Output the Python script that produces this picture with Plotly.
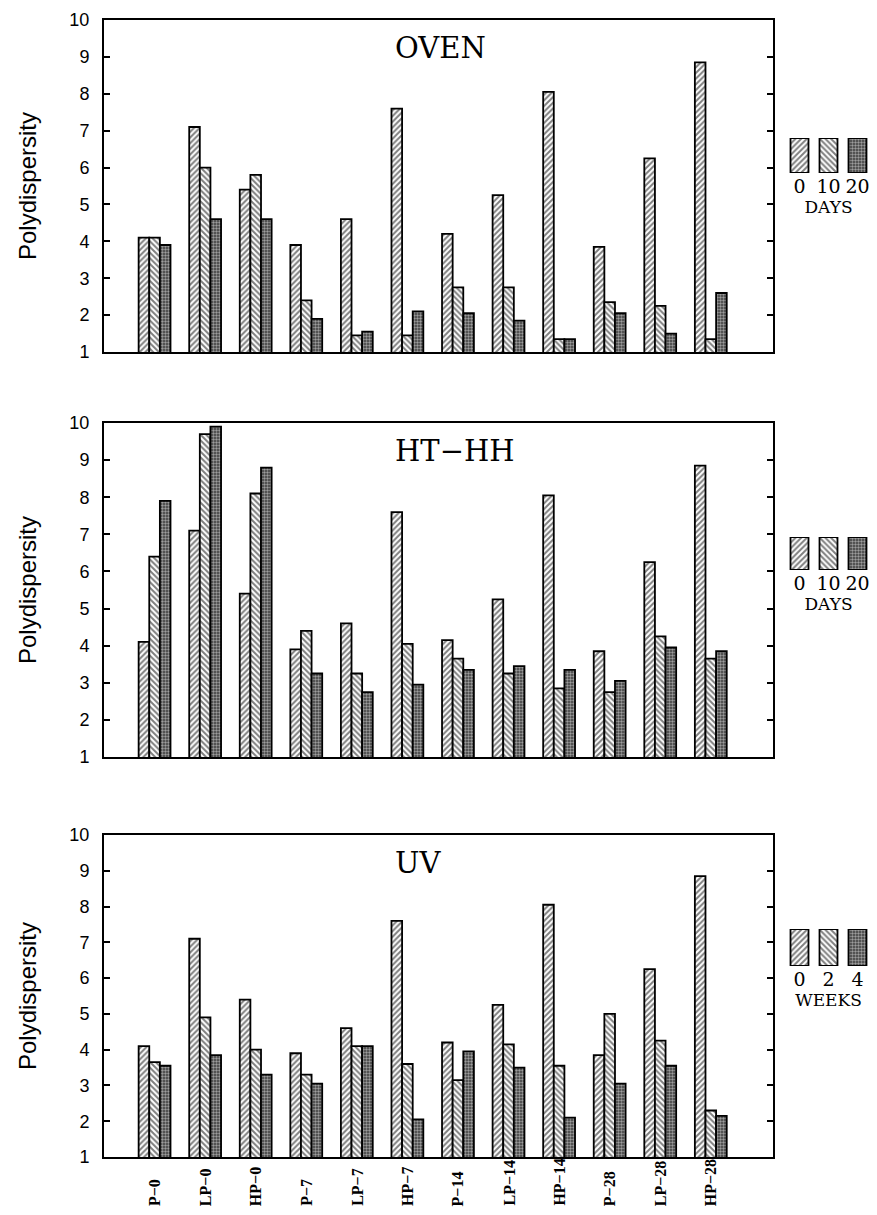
import plotly.graph_objects as go

# ---------------- data ----------------
samples = ["P−0", "LP−0", "HP−0", "P−7", "LP−7", "HP−7",
           "P−14", "LP−14", "HP−14", "P−28", "LP−28", "HP−28"]

panel_titles = ["OVEN", "HT−HH", "UV"]

oven_0 = [4.1, 7.1, 5.4, 3.9, 4.6, 7.6, 4.2, 5.25, 8.05, 3.85, 6.25, 8.85]
oven_10 = [4.1, 6.0, 5.8, 2.4, 1.45, 1.45, 2.75, 2.75, 1.35, 2.35, 2.25, 1.35]
oven_20 = [3.9, 4.6, 4.6, 1.9, 1.55, 2.1, 2.05, 1.85, 1.35, 2.05, 1.5, 2.6]

hthh_0 = [4.1, 7.1, 5.4, 3.9, 4.6, 7.6, 4.15, 5.25, 8.05, 3.85, 6.25, 8.85]
hthh_10 = [6.4, 9.7, 8.1, 4.4, 3.25, 4.05, 3.65, 3.25, 2.85, 2.75, 4.25, 3.65]
hthh_20 = [7.9, 9.9, 8.8, 3.25, 2.75, 2.95, 3.35, 3.45, 3.35, 3.05, 3.95, 3.85]

uv_0 = [4.1, 7.1, 5.4, 3.9, 4.6, 7.6, 4.2, 5.25, 8.05, 3.85, 6.25, 8.85]
uv_2 = [3.65, 4.9, 4.0, 3.3, 4.1, 3.6, 3.15, 4.15, 3.55, 5.0, 4.25, 2.3]
uv_4 = [3.55, 3.85, 3.3, 3.05, 4.1, 2.05, 3.95, 3.5, 2.1, 3.05, 3.55, 2.15]

legend_labels = [["0", "10", "20"], ["0", "10", "20"], ["0", "2", "4"]]
legend_units = ["DAYS", "DAYS", "WEEKS"]

y_ticks = [1, 2, 3, 4, 5, 6, 7, 8, 9, 10]

panels = [[oven_0, oven_10, oven_20],
          [hthh_0, hthh_10, hthh_20],
          [uv_0, uv_2, uv_4]]

# ---------------- layout helpers ----------------
W, H = 877, 1215
L, R, T, B = 104, 5, 20, 58
PW, PH = W - L - R, H - T - B


def px_x(px):
    return (px - L) / PW


def px_y(py):
    return (H - B - py) / PH


panel_px = [(20, 352), (423, 757), (835, 1157)]
legend_px = [(138, 173), (537, 570), (929, 966)]
main_x_dom = [0, px_x(773)]
leg_x_dom = [px_x(785), px_x(872)]

patterns = [
    dict(shape="/", fgcolor="black", bgcolor="white", size=4, solidity=0.5),
    dict(shape="\\", fgcolor="black", bgcolor="white", size=4, solidity=0.5),
    dict(shape=".", fgcolor="white", bgcolor="#3a3a3a", size=3, solidity=0.5),
]

serif = "DejaVu Serif"
label_serif = "Liberation Serif"
sans = "Liberation Sans"

fig = go.Figure()
xpos = list(range(len(samples)))

for p, series in enumerate(panels):
    ax = "" if p == 0 else str(p + 1)
    for s, vals in enumerate(series):
        fig.add_trace(go.Bar(
            x=xpos, y=vals, xaxis="x" + ax, yaxis="y" + ax,
            marker=dict(color="white", line=dict(color="black", width=1.8),
                        pattern=patterns[s]),
            showlegend=False, hoverinfo="skip"))
    # legend mini-chart
    lax = str(p + 4)
    for s in range(3):
        fig.add_trace(go.Bar(
            x=[s], y=[1], xaxis="x" + lax, yaxis="y" + lax,
            width=0.62, offset=-0.31,
            marker=dict(color="white", line=dict(color="black", width=1.8),
                        pattern=patterns[s]),
            showlegend=False, hoverinfo="skip"))

layout = dict(
    width=W, height=H,
    margin=dict(l=L, r=R, t=T, b=B),
    paper_bgcolor="white", plot_bgcolor="white",
    barmode="group", bargap=0.37, bargroupgap=0,
    annotations=[],
)

for p in range(3):
    ax = "" if p == 0 else str(p + 1)
    top, bot = panel_px[p]
    layout["xaxis" + ax] = dict(
        domain=main_x_dom, range=[-1.0, 12.23], anchor="y" + ax,
        showticklabels=False, ticks="", showgrid=False, zeroline=False,
        showline=True, linecolor="black", linewidth=2, mirror=True)
    layout["yaxis" + ax] = dict(
        domain=[px_y(bot), px_y(top)], range=[1, 10], anchor="x" + ax,
        tickvals=y_ticks, ticks="inside", ticklen=6, tickwidth=1.5,
        tickcolor="black", showgrid=False, zeroline=False,
        showline=True, linecolor="black", linewidth=2, mirror="ticks",
        tickfont=dict(family=sans, size=18, color="black"),
        ticklabelstandoff=9,
        title=dict(text="Polydispersity", standoff=26,
                   font=dict(family=sans, size=24, color="black")))
    # panel title
    layout["annotations"].append(dict(
        text=panel_titles[p], xref="paper", yref="paper",
        x=px_x(393), y=px_y(top + 28), xanchor="left", yanchor="middle",
        showarrow=False, font=dict(family=serif, size=29, color="black")))

    # legend axes
    lax = str(p + 4)
    lt, lb = legend_px[p]
    layout["xaxis" + lax] = dict(
        domain=leg_x_dom, range=[-0.5, 2.5], anchor="y" + lax,
        tickvals=[0, 1, 2], ticktext=legend_labels[p], ticks="",
        showline=False, showgrid=False, zeroline=False,
        tickfont=dict(family=serif, size=19, color="black"),
        ticklabelstandoff=0,
        title=dict(text=legend_units[p], standoff=0,
                   font=dict(family=serif, size=17, color="black")))
    layout["yaxis" + lax] = dict(
        domain=[px_y(lb), px_y(lt)], range=[0, 1], anchor="x" + lax,
        visible=False, showgrid=False, zeroline=False)

# x category labels under bottom panel (bottom-aligned, rotated)
for i, lab in enumerate(samples):
    layout["annotations"].append(dict(
        text="<b>" + lab + "</b>", xref="x3", yref="paper", x=xpos[i],
        y=px_y(1208), xanchor="center", yanchor="bottom", textangle=-90,
        showarrow=False,
        font=dict(family=label_serif, size=16, color="black")))

fig.update_layout(**layout)
fig.write_html("out.html")
